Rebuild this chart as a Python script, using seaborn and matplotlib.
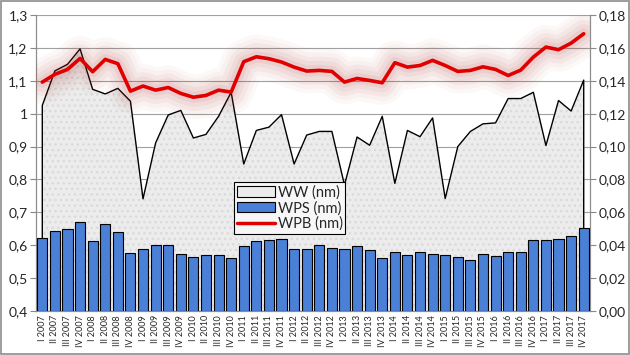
import numpy as np
import pandas as pd
import matplotlib
matplotlib.use("Agg")
import matplotlib.pyplot as plt
from matplotlib.ticker import FuncFormatter, MultipleLocator, FixedLocator
from matplotlib.patches import Patch, Rectangle
from matplotlib.lines import Line2D
import seaborn as sns

# Data
years = list(range(2007, 2018))
roman = ['I', 'II', 'III', 'IV']
quarters = [f"{r} {y}" for y in years for r in roman]

ww = [1.025, 1.13, 1.150, 1.197, 1.074, 1.060, 1.077, 1.038,
      0.741, 0.911, 0.996, 1.010, 0.926, 0.937, 0.992, 1.065,
      0.847, 0.949, 0.959, 0.997, 0.847, 0.935, 0.946, 0.946,
      0.783, 0.929, 0.904, 0.992, 0.788, 0.949, 0.930, 0.987,
      0.742, 0.900, 0.946, 0.969, 0.972, 1.046, 1.046, 1.065,
      0.903, 1.040, 1.008, 1.102]

wps = [0.0446, 0.0488, 0.0500, 0.0542, 0.0424, 0.0530, 0.0482, 0.0354,
       0.0374, 0.0404, 0.0404, 0.0348, 0.0330, 0.0338, 0.0342, 0.0324,
       0.0396, 0.0424, 0.0434, 0.0440, 0.0378, 0.0378, 0.0400, 0.0384,
       0.0374, 0.0394, 0.0372, 0.0323, 0.0360, 0.0341, 0.0360, 0.0347,
       0.0341, 0.0329, 0.0311, 0.0347, 0.0335, 0.0360, 0.0360, 0.0432,
       0.0434, 0.0438, 0.0457, 0.0505]

wpb = [0.1392, 0.1439, 0.1469, 0.1536, 0.1455, 0.1530, 0.1504, 0.1337,
       0.1368, 0.1343, 0.1359, 0.1323, 0.1300, 0.1311, 0.1343, 0.1331,
       0.1516, 0.1546, 0.1534, 0.1514, 0.1483, 0.1459, 0.1463, 0.1457,
       0.1392, 0.1414, 0.1402, 0.1388, 0.1510, 0.1483, 0.1493, 0.1524,
       0.1493, 0.1457, 0.1463, 0.1485, 0.1469, 0.1432, 0.1465, 0.1544,
       0.1605, 0.1589, 0.1629, 0.1686]

df = pd.DataFrame({'quarter': quarters, 'WW': ww, 'WPS': wps, 'WPB': wpb})
xpos = np.arange(len(df))

sns.set_style("white")
plt.rcParams['font.family'] = ['Lato', 'DejaVu Sans']

fig = plt.figure(figsize=(6.3, 3.55), dpi=100)
ax = fig.add_axes([36 / 630, 1 - 311 / 355, 554 / 630, 296 / 355])
ax2 = ax.twinx()

# WW area on left axis
ax.set_ylim(0.4, 1.3)
ax.yaxis.set_major_locator(MultipleLocator(0.1))
ax.grid(axis='y', color='#a0a0a0', linewidth=0.8, zorder=0)
ax.set_axisbelow(True)
ax.fill_between(xpos, 0.4, df['WW'], color='#ececec', linewidth=0, zorder=1)
ax.fill_between(xpos, 0.4, df['WW'], facecolor='none', edgecolor='#dadada',
                hatch='...', linewidth=0, zorder=1)
ax.plot(np.r_[xpos[0], xpos, xpos[-1]], np.r_[0.4, df['WW'], 0.4],
        color='black', linewidth=1.0, zorder=2)

# WPS bars on right axis
sns.barplot(data=df, x='quarter', y='WPS', ax=ax2, color='#4a80d6',
            edgecolor='black', linewidth=0.8, width=0.8, saturation=1, zorder=3)

# WPB line with soft glow
for lw, a in [(32, 0.03), (26, 0.04), (20, 0.05), (14, 0.06), (8, 0.08)]:
    ax2.plot(xpos, df['WPB'], color='#b03030', linewidth=lw, alpha=a,
             solid_capstyle='round', solid_joinstyle='round', zorder=4)
sns.lineplot(x=xpos, y=df['WPB'], ax=ax2, color='#e00000', linewidth=2.6, zorder=5)

ax2.set_ylim(0, 0.18)
ax2.yaxis.set_major_locator(MultipleLocator(0.02))
ax.set_xlim(-0.5, len(df) - 0.5)

comma1 = FuncFormatter(lambda v, p: '1' if abs(v - 1) < 1e-9 else f"{v:.1f}".replace('.', ','))
comma2 = FuncFormatter(lambda v, p: f"{v:.2f}".replace('.', ','))
ax.yaxis.set_major_formatter(comma1)
ax2.yaxis.set_major_formatter(comma2)

ax.set_xticks(xpos)
ax.set_xticklabels(df['quarter'], rotation=90, fontsize=6.5)
ax.xaxis.set_minor_locator(FixedLocator(xpos[:-1] + 0.5))
ax.tick_params(axis='x', which='major', length=0, pad=3)
ax.tick_params(axis='x', which='minor', length=3, color='#888888', direction='out')
ax.tick_params(axis='y', labelsize=10, length=4, color='#888888', pad=2)
ax2.tick_params(axis='y', labelsize=10, length=4, color='#888888', pad=2)
ax.set_xlabel('')
ax2.set_xlabel('')
ax.set_ylabel('')
ax2.set_ylabel('')

for a in (ax, ax2):
    a.spines['top'].set_visible(False)
    for s in ('left', 'right', 'bottom'):
        a.spines[s].set_color('#8c8c8c')
        a.spines[s].set_linewidth(0.8)

handles = [Patch(facecolor='#ececec', edgecolor='black', linewidth=0.8),
           Patch(facecolor='#4a80d6', edgecolor='black', linewidth=0.8),
           Line2D([0], [0], color='#e00000', linewidth=2.5)]
leg = ax2.legend(handles, ['WW (nm)', 'WPS (nm)', 'WPB (nm)'],
                 loc='upper left', bbox_to_anchor=(0.357, 0.435),
                 fontsize=10.5, frameon=True, fancybox=False,
                 handlelength=2.6, handletextpad=0.2, labelspacing=0.1,
                 borderpad=0.2, borderaxespad=0)
leg.get_frame().set_edgecolor('black')
leg.get_frame().set_linewidth(0.8)
leg.get_frame().set_facecolor('#f7f7f7')
leg.get_frame().set_alpha(1)
leg.set_zorder(10)

fig.patches.append(Rectangle((0.002, 0.003), 0.996, 0.994, transform=fig.transFigure,
                             fill=False, edgecolor='#8c8c8c', linewidth=1.2))

fig.savefig('out.png', dpi=100)
